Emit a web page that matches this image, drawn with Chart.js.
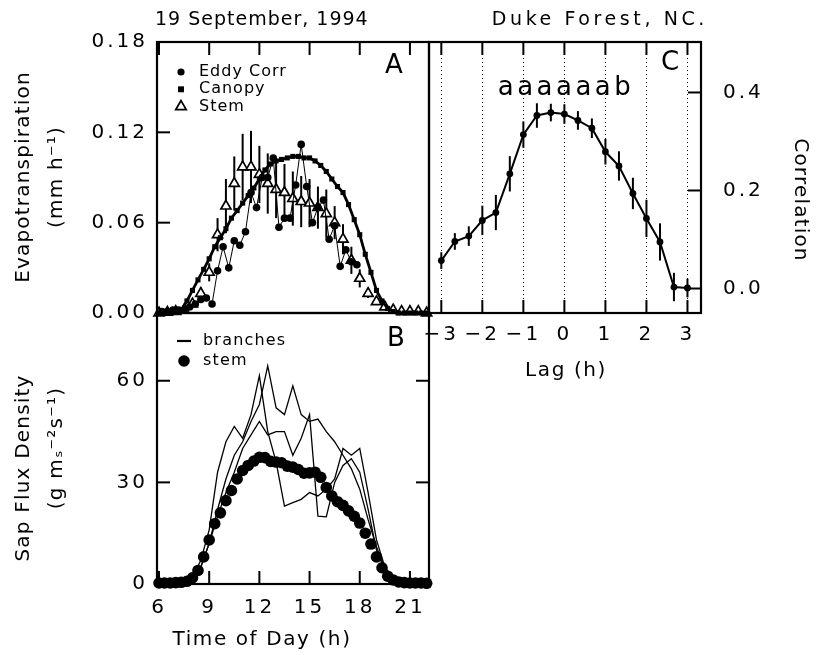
<!DOCTYPE html>
<html>
<head>
<meta charset="utf-8">
<script src="https://cdn.jsdelivr.net/npm/chart.js@4.4.1/dist/chart.umd.min.js"></script>
<style>
  html, body { margin: 0; padding: 0; background: #fff; }
  #wrap { position: relative; width: 821px; height: 655px; }
  #wrap canvas { position: absolute; left: 0; top: 0; }
</style>
</head>
<body>
<div id="wrap">
  <canvas id="panelA" width="821" height="655"></canvas>
  <canvas id="panelB" width="821" height="655"></canvas>
  <canvas id="panelC" width="821" height="655"></canvas>
</div>
<script>
// ---- Panel A : evapotranspiration (mm h-1) ----
const eddyTimes = [6.17, 6.5, 6.83, 7.17, 7.5, 7.83, 8.17, 8.5, 8.83, 9.17, 9.5, 9.83,
  10.17, 10.5, 10.83, 11.17, 11.5, 11.83, 12.17, 12.5, 12.83, 13.17, 13.5, 13.83,
  14.17, 14.5, 14.83, 15.17, 15.5, 15.83, 16.17, 16.5, 16.83, 17.17, 17.5, 17.83];
const eddyET = [0.001, 0.001, 0.002, 0.002, 0.002, 0.004, 0.006, 0.009, 0.010, 0.006, 0.028, 0.044,
  0.030, 0.048, 0.045, 0.054, 0.080, 0.070, 0.090, 0.090, 0.103, 0.057, 0.063, 0.063,
  0.085, 0.112, 0.084, 0.060, 0.070, 0.075, 0.049, 0.058, 0.031, 0.042, 0.034, 0.032];

const canopyTimes = [6, 6.33, 6.67, 7, 7.33, 7.67, 8, 8.33, 8.67, 9, 9.33, 9.67, 10, 10.33, 10.67,
  11, 11.33, 11.67, 12, 12.33, 12.67, 13, 13.33, 13.67, 14, 14.33, 14.67, 15, 15.33, 15.67,
  16, 16.33, 16.67, 17, 17.33, 17.67, 18, 18.33, 18.67, 19, 19.33, 19.67, 20, 20.33, 20.67,
  21, 21.33, 21.67, 22];
const canopyET = [0, 0, 0.001, 0.001, 0.002, 0.008, 0.015, 0.022, 0.029, 0.036, 0.044, 0.050, 0.056, 0.063, 0.068,
  0.073, 0.078, 0.083, 0.089, 0.095, 0.099, 0.101, 0.102, 0.103, 0.104, 0.104, 0.103, 0.103, 0.101, 0.098,
  0.094, 0.089, 0.084, 0.080, 0.072, 0.062, 0.052, 0.039, 0.027, 0.015, 0.008, 0.003, 0.001, 0, 0,
  0, 0, 0, 0];

const stemTimes = [6, 6.5, 7, 7.5, 8, 8.5, 9, 9.5, 10, 10.5, 11, 11.5, 12, 12.5, 13, 13.5, 14,
  14.5, 15, 15.5, 16, 16.5, 17, 17.5, 18, 18.5, 19, 19.5, 20, 20.5, 21, 21.5, 22];
const stemET = [0, 0.0005, 0.001, 0.002, 0.006, 0.013, 0.027, 0.052, 0.071, 0.086, 0.097, 0.097, 0.092, 0.086, 0.082, 0.080, 0.076,
  0.074, 0.073, 0.070, 0.066, 0.060, 0.049, 0.035, 0.023, 0.013, 0.0075, 0.004, 0.002, 0.001, 0.001, 0.001, 0];
const stemETErr = [0, 0, 0, 0, 0.002, 0.004, 0.006, 0.011, 0.018, 0.018, 0.022, 0.024, 0.019, 0.020, 0.019, 0.019, 0.018,
  0.017, 0.016, 0.014, 0.016, 0.011, 0.010, 0.009, 0.006, 0.003, 0, 0, 0, 0, 0, 0, 0];

// ---- Panel B : sap flux density ----
const branchTimes = [6, 6.5, 7, 7.5, 8, 8.5, 9, 9.5, 10, 10.5, 11, 11.5, 12, 12.5, 13, 13.5, 14,
  14.5, 15, 15.5, 16, 16.5, 17, 17.5, 18, 18.5, 19, 19.5, 20, 20.5, 21, 21.5, 22];
const branch1 = [0.3, 0.3, 0.4, 0.6, 2, 7, 16, 33, 42, 46.5, 43, 50, 61.5, 45, 36, 23, 24,
  25, 27, 26, 28, 31, 40, 38, 40, 27, 13, 5, 2, 0.8, 0.4, 0.3, 0.3];
const branch2 = [0.3, 0.3, 0.4, 0.5, 1.5, 5, 12, 22, 31, 38, 42, 48, 53, 64.4, 52, 50, 58.5,
  50, 48, 48.7, 45, 42, 38, 34, 28, 19, 11, 4.5, 2, 0.8, 0.4, 0.3, 0.3];
const branch3 = [0.3, 0.3, 0.4, 0.5, 1.5, 5, 12, 20, 27, 33, 40, 44, 48, 44, 45, 45, 38,
  43, 50, 20, 19.8, 30, 35, 37, 33, 22, 10, 4, 1.5, 0.6, 0.4, 0.3, 0.3];

const sapTimes = canopyTimes;
const sapStem = [0.3, 0.3, 0.3, 0.4, 0.5, 0.8, 1.8, 4.0, 8.0, 13.0, 17.8, 21.0, 24.6, 27.6, 31.0,
  33.5, 35.0, 36.3, 37.4, 37.3, 36.2, 36.0, 35.8, 34.8, 34.5, 33.8, 32.7, 32.8, 33.0, 31.5,
  28.5, 26.0, 24.3, 23.2, 21.6, 20.0, 18.0, 15.0, 11.8, 8.0, 4.8, 2.3, 1.2, 0.6, 0.4,
  0.3, 0.3, 0.3, 0.2];

// ---- Panel C : lag correlation ----
const lagHours = [-3, -2.67, -2.33, -2, -1.67, -1.33, -1, -0.67, -0.33, 0, 0.33, 0.67, 1, 1.33, 1.67, 2, 2.33, 2.67, 3];
const lagCorr = [0.057, 0.096, 0.107, 0.139, 0.155, 0.234, 0.314, 0.353, 0.359, 0.356, 0.343, 0.327, 0.279, 0.250, 0.194, 0.143, 0.095, 0.003, 0.001];
const lagCorrErr = [0.017, 0.017, 0.020, 0.030, 0.036, 0.036, 0.027, 0.025, 0.018, 0.020, 0.019, 0.020, 0.026, 0.030, 0.032, 0.038, 0.038, 0.029, 0.019];
const lagGroups = "aaaaaab";

const pts = (xs, ys) => xs.map((x, i) => ({ x: x, y: ys[i] }));

Chart.defaults.font.family = "'DejaVu Sans', sans-serif";
Chart.defaults.color = "#000";

const tickFont = { family: "'DejaVu Sans', sans-serif", size: 20 };

// letter spacing for the tick labels (the original type is widely tracked)
const tracking = {
  id: "tracking",
  beforeDraw(chart, args, opts) {
    if ("letterSpacing" in chart.ctx) chart.ctx.letterSpacing = (opts.px || 0) + "px";
  },
};

// vertical error bars, drawn under the markers
const errorBars = {
  id: "errorBars",
  beforeDatasetsDraw(chart) {
    const ctx = chart.ctx;
    const xs = chart.scales.x, ys = chart.scales.y;
    ctx.save();
    ctx.strokeStyle = "#000";
    ctx.lineWidth = 2;
    chart.data.datasets.forEach((ds) => {
      if (!ds.errors) return;
      ds.data.forEach((p, i) => {
        const e = ds.errors[i];
        if (!e) return;
        const px = xs.getPixelForValue(p.x);
        ctx.beginPath();
        ctx.moveTo(px, ys.getPixelForValue(p.y - e));
        ctx.lineTo(px, ys.getPixelForValue(p.y + e));
        ctx.stroke();
      });
    });
    ctx.restore();
  },
};

// plot frame with inward tick marks
const frameTicks = {
  id: "frameTicks",
  afterDatasetsDraw(chart, args, opts) {
    const ctx = chart.ctx, a = chart.chartArea;
    const len = opts.len || 13;
    ctx.save();
    ctx.strokeStyle = "#000";
    ctx.lineWidth = 2;
    (opts.sides || []).forEach((side) => {
      const horiz = side === "top" || side === "bottom";
      const scale = chart.scales[horiz ? "x" : "y"];
      scale.ticks.forEach((t) => {
        const p = scale.getPixelForValue(t.value);
        ctx.beginPath();
        if (horiz) {
          if (p < a.left + 2 || p > a.right - 2) return;
          const y0 = side === "top" ? a.top : a.bottom;
          ctx.moveTo(p, y0);
          ctx.lineTo(p, side === "top" ? y0 + len : y0 - len);
        } else {
          if (p < a.top + 2 || p > a.bottom - 2) return;
          const x0 = side === "left" ? a.left : a.right;
          ctx.moveTo(x0, p);
          ctx.lineTo(side === "left" ? x0 + len : x0 - len, p);
        }
        ctx.stroke();
      });
    });
    ctx.lineWidth = 2.2;
    ctx.strokeRect(a.left, a.top, a.right - a.left, a.bottom - a.top);
    ctx.restore();
  },
};

function drawMarker(ctx, style, x, y, r, fill, stroke, lw) {
  ctx.save();
  ctx.fillStyle = fill;
  ctx.strokeStyle = stroke;
  ctx.lineWidth = lw;
  ctx.beginPath();
  if (style === "circle") {
    ctx.arc(x, y, r, 0, Math.PI * 2);
  } else if (style === "rect") {
    const s = r / Math.SQRT2;
    ctx.rect(x - s, y - s, 2 * s, 2 * s);
  } else if (style === "triangle") {
    ctx.moveTo(x, y - r);
    ctx.lineTo(x + 0.866 * r, y + 0.5 * r);
    ctx.lineTo(x - 0.866 * r, y + 0.5 * r);
    ctx.closePath();
  } else if (style === "line") {
    ctx.moveTo(x - r, y);
    ctx.lineTo(x + r, y);
  }
  if (style !== "line") ctx.fill();
  if (lw > 0) ctx.stroke();
  ctx.restore();
}

// legend drawn inside the plot, styles taken from the datasets
const insetLegend = {
  id: "insetLegend",
  afterDraw(chart, args, opts) {
    const ctx = chart.ctx;
    ctx.save();
    ctx.font = opts.font;
    if ("letterSpacing" in ctx) ctx.letterSpacing = (opts.spacing || 0) + "px";
    ctx.fillStyle = "#000";
    ctx.textBaseline = "middle";
    ctx.textAlign = "left";
    opts.entries.forEach((en, i) => {
      const ds = chart.data.datasets[en.ds];
      const y = opts.y + i * opts.rowHeight;
      drawMarker(ctx, ds.pointStyle, opts.x, y, en.radius,
        ds.pointBackgroundColor || "#000", ds.pointBorderColor || "#000", en.lw);
      ctx.fillText(ds.label, opts.textX, y);
    });
    ctx.restore();
  },
};

// free text: headers, panel letters, axis titles
const freeText = {
  id: "freeText",
  afterDraw(chart, args, opts) {
    const ctx = chart.ctx;
    (opts.items || []).forEach((it) => {
      ctx.save();
      ctx.font = it.font;
      ctx.fillStyle = "#000";
      if ("letterSpacing" in ctx) ctx.letterSpacing = (it.spacing || 0) + "px";
      ctx.textAlign = it.align || "left";
      ctx.textBaseline = it.baseline || "alphabetic";
      ctx.translate(it.x, it.y);
      if (it.rotate) ctx.rotate((it.rotate * Math.PI) / 180);
      ctx.fillText(it.text, 0, 0);
      ctx.restore();
    });
  },
};

const F = "'DejaVu Sans', sans-serif";

// ---------------- Panel A ----------------
new Chart(document.getElementById("panelA"), {
  type: "line",
  data: {
    datasets: [
      {
        label: "Eddy Corr",
        data: pts(eddyTimes, eddyET),
        borderColor: "#000",
        borderWidth: 1,
        pointStyle: "circle",
        pointRadius: 3.8,
        pointBackgroundColor: "#000",
        pointBorderColor: "#000",
        pointBorderWidth: 0,
        clip: false,
      },
      {
        label: "Canopy",
        data: pts(canopyTimes, canopyET),
        borderColor: "#000",
        borderWidth: 2.8,
        pointStyle: "rect",
        pointRadius: 3.6,
        pointBackgroundColor: "#000",
        pointBorderColor: "#000",
        pointBorderWidth: 0,
        clip: false,
      },
      {
        label: "Stem",
        data: pts(stemTimes, stemET),
        errors: stemETErr,
        showLine: false,
        pointStyle: "triangle",
        pointRadius: 5.8,
        pointBackgroundColor: "#fff",
        pointBorderColor: "#000",
        pointBorderWidth: 1.7,
        clip: false,
      },
    ],
  },
  options: {
    responsive: false,
    animation: false,
    events: [],
    layout: { padding: { left: 0, top: 42, right: 392, bottom: 342 } },
    plugins: {
      legend: { display: false },
      tooltip: { enabled: false },
      tracking: { px: 3 },
      frameTicks: { sides: ["top", "left"], len: 13 },
      insetLegend: {
        x: 181, textX: 199, y: 72, rowHeight: 17.3, font: "16px " + F, spacing: 1,
        entries: [{ ds: 0, radius: 3.6, lw: 0 }, { ds: 1, radius: 4.2, lw: 0 }, { ds: 2, radius: 6, lw: 1.8 }],
      },
      freeText: {
        items: [
          { text: "19 September, 1994", x: 155, y: 25, font: "19px " + F, spacing: 1 },
          { text: "A", x: 394, y: 73, font: "26px " + F, align: "center" },
          { text: "Evapotranspiration", x: 24, y: 177, font: "20px " + F, spacing: 1.2, align: "center", baseline: "middle", rotate: -90 },
          { text: "(mm h\u207B\u00B9)", x: 57, y: 177, font: "20px " + F, spacing: 1.2, align: "center", baseline: "middle", rotate: -90 },
        ],
      },
    },
    scales: {
      x: {
        type: "linear",
        min: 5.88,
        max: 22.14,
        ticks: { stepSize: 3, display: false, includeBounds: false },
        grid: { display: false, drawTicks: false },
        border: { display: false },
        afterFit: (s) => { s.height = 0; },
      },
      y: {
        min: 0,
        max: 0.18,
        ticks: { stepSize: 0.06, font: tickFont, padding: 9, callback: (v) => v.toFixed(2) },
        grid: { display: false, drawTicks: false },
        border: { display: false },
        afterFit: (s) => { s.width = 157; },
      },
    },
  },
  plugins: [tracking, errorBars, frameTicks, insetLegend, freeText],
});

// ---------------- Panel B ----------------
const branchStyle = { borderColor: "#000", borderWidth: 1.3, pointRadius: 0, pointStyle: "line", clip: false };
new Chart(document.getElementById("panelB"), {
  type: "line",
  data: {
    datasets: [
      Object.assign({ label: "branches", data: pts(branchTimes, branch1) }, branchStyle),
      Object.assign({ label: "branch 2", data: pts(branchTimes, branch2) }, branchStyle),
      Object.assign({ label: "branch 3", data: pts(branchTimes, branch3) }, branchStyle),
      {
        label: "stem",
        data: pts(sapTimes, sapStem),
        showLine: false,
        pointStyle: "circle",
        pointRadius: 5.8,
        pointBackgroundColor: "#000",
        pointBorderColor: "#000",
        pointBorderWidth: 0,
        clip: false,
      },
    ],
  },
  options: {
    responsive: false,
    animation: false,
    events: [],
    layout: { padding: { left: 0, top: 313, right: 392, bottom: 0 } },
    plugins: {
      legend: { display: false },
      tooltip: { enabled: false },
      tracking: { px: 3 },
      frameTicks: { sides: ["bottom", "left", "right"], len: 13 },
      insetLegend: {
        x: 184, textX: 203, y: 341, rowHeight: 20, font: "16px " + F, spacing: 1.2,
        entries: [{ ds: 0, radius: 7, lw: 2.2 }, { ds: 3, radius: 5.8, lw: 0 }],
      },
      freeText: {
        items: [
          { text: "B", x: 396, y: 346, font: "26px " + F, align: "center" },
          { text: "Time of Day (h)", x: 262, y: 645, font: "20px " + F, spacing: 1.6, align: "center" },
          { text: "Sap Flux Density", x: 24, y: 468, font: "20px " + F, spacing: 1.2, align: "center", baseline: "middle", rotate: -90 },
          { text: "(g m\u209B\u207B\u00B2s\u207B\u00B9)", x: 57, y: 448, font: "20px " + F, spacing: 1.2, align: "center", baseline: "middle", rotate: -90 },
        ],
      },
    },
    scales: {
      x: {
        type: "linear",
        min: 5.88,
        max: 22.14,
        ticks: { stepSize: 3, font: tickFont, padding: 12, includeBounds: false },
        grid: { display: false, drawTicks: false },
        border: { display: false },
        afterFit: (s) => { s.height = 71; },
      },
      y: {
        min: 0,
        max: 80,
        ticks: { stepSize: 30, font: tickFont, padding: 9, includeBounds: false },
        grid: { display: false, drawTicks: false },
        border: { display: false },
        afterFit: (s) => { s.width = 157; },
      },
    },
  },
  plugins: [tracking, frameTicks, insetLegend, freeText],
});

// ---------------- Panel C ----------------
new Chart(document.getElementById("panelC"), {
  type: "line",
  data: {
    datasets: [
      {
        label: "Correlation",
        data: pts(lagHours, lagCorr),
        errors: lagCorrErr,
        borderColor: "#000",
        borderWidth: 2,
        pointStyle: "circle",
        pointRadius: 3.4,
        pointBackgroundColor: "#000",
        pointBorderWidth: 0,
        clip: false,
      },
    ],
  },
  options: {
    responsive: false,
    animation: false,
    events: [],
    layout: { padding: { left: 429, top: 42, right: 0, bottom: 302 } },
    plugins: {
      legend: { display: false },
      tooltip: { enabled: false },
      tracking: { px: 3 },
      frameTicks: { sides: ["top", "bottom", "right"], len: 13 },
      freeText: {
        items: [
          { text: "Duke Forest, NC.", x: 708, y: 25, font: "19px " + F, spacing: 3.6, align: "right" },
          { text: "C", x: 670, y: 70, font: "26px " + F, align: "center" },
          { text: lagGroups, x: 566, y: 95, font: "26px " + F, spacing: 3.5, align: "center" },
          { text: "Lag (h)", x: 566, y: 376, font: "20px " + F, spacing: 1.6, align: "center" },
          { text: "Correlation", x: 800, y: 200, font: "20px " + F, spacing: 1.2, align: "center", baseline: "middle", rotate: 90 },
        ],
      },
    },
    scales: {
      x: {
        type: "linear",
        min: -3.3,
        max: 3.33,
        ticks: {
          stepSize: 1,
          font: tickFont,
          padding: 10,
          includeBounds: false,
          callback: (v) => (v < 0 ? "\u2212" + Math.abs(v) : String(v)),
        },
        grid: { display: true, color: "#000", lineWidth: 1, drawTicks: false },
        border: { display: false, dash: [1, 3] },
        afterFit: (s) => { s.height = 40; },
      },
      y: {
        position: "right",
        min: -0.05,
        max: 0.503,
        ticks: { stepSize: 0.2, font: tickFont, padding: 22, includeBounds: false, callback: (v) => v.toFixed(1) },
        grid: { display: false, drawTicks: false },
        border: { display: false },
        afterFit: (s) => { s.width = 120; },
      },
    },
  },
  plugins: [tracking, errorBars, frameTicks, freeText],
});
</script>
</body>
</html>
